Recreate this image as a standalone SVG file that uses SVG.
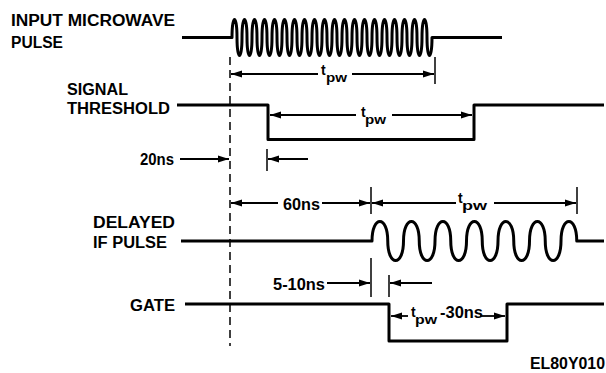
<svg xmlns="http://www.w3.org/2000/svg" width="606" height="373" viewBox="0 0 606 373">
<style>
  .sig{fill:none;stroke:#000;stroke-width:3;stroke-linejoin:round}
  .dim{fill:none;stroke:#000;stroke-width:1.8}
  .tick{fill:none;stroke:#000;stroke-width:1.5}
  .dash{fill:none;stroke:#000;stroke-width:1.5;stroke-dasharray:8 5}
  text{font-family:"Liberation Sans",Arial,sans-serif;font-weight:bold;fill:#000}
  .lbl{font-size:16px}
  .t{font-size:14px}
  .sub{font-size:12px}
</style>
<defs>
  <marker id="ah" markerUnits="userSpaceOnUse" markerWidth="11" markerHeight="8" refX="11" refY="4" orient="auto">
    <path d="M0,0.6 L11,4 L0,7.4 z" fill="#000"/>
  </marker>
</defs>
<rect width="606" height="373" fill="#fff"/>

<g id="input-pulse">
  <text class="lbl" x="11" y="26" textLength="164" lengthAdjust="spacingAndGlyphs">INPUT MICROWAVE</text>
  <text class="lbl" x="11" y="48" textLength="52" lengthAdjust="spacingAndGlyphs">PULSE</text>
  <path class="sig" d="M182,37.5 H232 c0,-24 5,-24 5,0
  s5,24 5,0 s5,-24 5,0 s5,24 5,0 s5,-24 5,0 s5,24 5,0 s5,-24 5,0 s5,24 5,0 s5,-24 5,0
  s5,24 5,0 s5,-24 5,0 s5,24 5,0 s5,-24 5,0 s5,24 5,0 s5,-24 5,0 s5,24 5,0 s5,-24 5,0
  s5,24 5,0 s5,-24 5,0 s5,24 5,0 s5,-24 5,0 s5,24 5,0 s5,-24 5,0 s5,24 5,0 s5,-24 5,0
  s5,24 5,0 s5,-24 5,0 s5,24 5,0 s5,-24 5,0 s5,24 5,0 s5,-24 5,0 s5,24 5,0 s5,-24 5,0
  s5,24 5,0 s5,-24 5,0 s5,24 5,0 s5,-24 5,0 s5,24 5,0 s5,-24 5,0 s5,24 5,0
  V37.5 H502"/>
</g>

<g id="signal-threshold">
  <text class="lbl" x="67" y="95" textLength="61" lengthAdjust="spacingAndGlyphs">SIGNAL</text>
  <text class="lbl" x="67" y="114" textLength="103" lengthAdjust="spacingAndGlyphs">THRESHOLD</text>
  <path class="sig" d="M177,105 H268 V139.5 H474 V105 H604"/>
</g>

<g id="delayed-if-pulse">
  <text class="lbl" x="93" y="228" textLength="82" lengthAdjust="spacingAndGlyphs">DELAYED</text>
  <text class="lbl" x="93" y="248" textLength="74" lengthAdjust="spacingAndGlyphs">IF PULSE</text>
  <path class="sig" d="M181,241 H372 c0,-26 15.75,-26 15.75,0
  s15.75,26 15.75,0 s15.75,-26 15.75,0 s15.75,26 15.75,0 s15.75,-26 15.75,0
  s15.75,26 15.75,0 s15.75,-26 15.75,0 s15.75,26 15.75,0 s15.75,-26 15.75,0
  s15.75,26 15.75,0 s15.75,-26 15.75,0 s15.75,26 15.75,0 s15.75,-26 15.75,0
  H604"/>
</g>

<g id="gate">
  <text class="lbl" x="130" y="311" textLength="45" lengthAdjust="spacingAndGlyphs">GATE</text>
  <path class="sig" d="M185,304 H389 V341 H507 V304 H604"/>
</g>

<g id="reference-line">
  <line class="dash" x1="230" y1="57" x2="230" y2="346"/>
</g>

<g id="connectors">
  <line class="tick" x1="435" y1="57" x2="435" y2="84"/>
  <line class="dim" x1="318" y1="74" x2="231" y2="74" marker-end="url(#ah)"/>
  <line class="dim" x1="352" y1="74" x2="434" y2="74" marker-end="url(#ah)"/>
  <line class="dim" x1="356" y1="115" x2="270" y2="115" marker-end="url(#ah)"/>
  <line class="dim" x1="392" y1="115" x2="472" y2="115" marker-end="url(#ah)"/>
  <line class="dim" x1="180" y1="159" x2="229" y2="159" marker-end="url(#ah)"/>
  <line class="tick" x1="267" y1="149" x2="267" y2="171"/>
  <line class="dim" x1="308" y1="159" x2="268" y2="159" marker-end="url(#ah)"/>
  <line class="dim" x1="278" y1="203" x2="231" y2="203" marker-end="url(#ah)"/>
  <line class="dim" x1="322" y1="203" x2="370" y2="203" marker-end="url(#ah)"/>
  <line class="tick" x1="371" y1="187" x2="371" y2="214"/>
  <line class="dim" x1="456" y1="203" x2="372" y2="203" marker-end="url(#ah)"/>
  <line class="dim" x1="494" y1="203" x2="576" y2="203" marker-end="url(#ah)"/>
  <line class="tick" x1="577" y1="187" x2="577" y2="214"/>
  <line class="tick" x1="371" y1="258" x2="371" y2="297"/>
  <line class="dim" x1="327" y1="283" x2="370" y2="283" marker-end="url(#ah)"/>
  <line class="tick" x1="389" y1="275" x2="389" y2="297"/>
  <line class="dim" x1="432" y1="283" x2="390" y2="283" marker-end="url(#ah)"/>
  <line class="dim" x1="408" y1="316" x2="391" y2="316" marker-end="url(#ah)"/>
  <line class="dim" x1="480" y1="316" x2="505" y2="316" marker-end="url(#ah)"/>
</g>

<g id="labels">
  <text class="t" x="321" y="75">t</text>
  <text class="sub" x="326" y="82" textLength="21" lengthAdjust="spacingAndGlyphs">pw</text>
  <text class="t" x="361" y="117">t</text>
  <text class="sub" x="365" y="124" textLength="21" lengthAdjust="spacingAndGlyphs">pw</text>
  <text class="lbl" x="140" y="165" textLength="34" lengthAdjust="spacingAndGlyphs">20ns</text>
  <text class="lbl" x="283" y="210" textLength="37" lengthAdjust="spacingAndGlyphs">60ns</text>
  <text class="t" x="458" y="203">t</text>
  <text class="sub" x="462" y="210" textLength="25" lengthAdjust="spacingAndGlyphs">pw</text>
  <text class="lbl" x="273" y="290" textLength="52" lengthAdjust="spacingAndGlyphs">5-10ns</text>
  <text class="t" x="411" y="317">t</text>
  <text class="sub" x="415" y="324" textLength="22" lengthAdjust="spacingAndGlyphs">pw</text>
  <text class="lbl" x="440" y="318" textLength="43" lengthAdjust="spacingAndGlyphs">-30ns</text>
  <text class="lbl" x="530" y="369" textLength="75" lengthAdjust="spacingAndGlyphs">EL80Y010</text>
</g>
</svg>
